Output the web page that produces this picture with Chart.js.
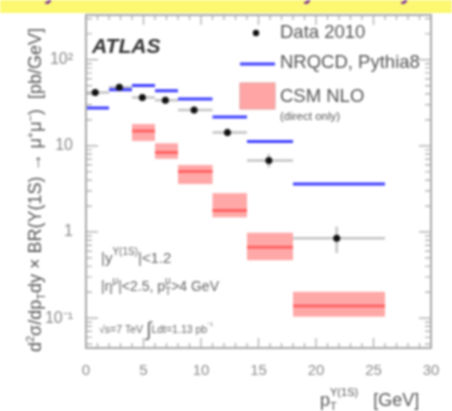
<!DOCTYPE html>
<html>
<head>
<meta charset="utf-8">
<script src="https://cdn.jsdelivr.net/npm/chart.js@4.4.1/dist/chart.umd.min.js"></script>
<style>
  html, body { margin: 0; padding: 0; background: #fff; }
  #chart { display: block; filter: blur(1px); }
</style>
</head>
<body>
<canvas id="chart" width="452" height="411"></canvas>
<script>
// bins in pT [GeV]
const binLo = [0, 2, 4, 6, 8, 11, 14, 18];
const binHi = [2, 4, 6, 8, 11, 14, 18, 26];

// Data 2010
const dataX = [0.8, 2.9, 4.9, 6.9, 9.4, 12.3, 15.9, 21.8];
const dataY = [41.7, 48, 36.5, 33.7, 26, 14.3, 6.75, 0.845];
const dataYLo = [38, 44, 33, 30.5, 23.5, 12.8, 5.6, 0.57];
const dataYHi = [46, 52, 40, 37, 28.5, 16, 8.1, 1.15];

// NRQCD, Pythia8
const nrqcdY = [27.4, 44.8, 50, 43.6, 34.9, 21.6, 11.2, 3.6];

// CSM NLO (direct only)
const csmLo = [4, 6, 8, 11, 14, 18];
const csmHi = [6, 8, 11, 14, 18, 26];
const csmY = [14.9, 8.36, 5.02, 1.77, 0.664, 0.138];
const csmUp = [17.9, 10.7, 6.0, 2.82, 0.98, 0.202];
const csmDown = [11.4, 7.06, 3.6, 1.48, 0.47, 0.104];

// axes
const xTicks = [0, 5, 10, 15, 20, 25, 30];
const yTicks = [0.1, 1, 10, 100];
const yTickLabels = ['10\u207B\u00B9', '1', '10', '10\u00B2'];

const FONT = '"Liberation Sans", Arial, sans-serif';

function segments(lo, hi, ys) {
  const pts = [];
  ys.forEach((y, i) => {
    pts.push({ x: lo[i], y }, { x: hi[i], y }, { x: hi[i], y: null });
  });
  return pts;
}

// draws text made of runs: {t, size, dy, back} ; back = start at same x as previous run
function rich(ctx, x, y, runs, color, weight) {
  let cx = x, prevX = x;
  runs.forEach((r) => {
    ctx.font = `${weight || ''} ${r.size}px ${FONT}`;
    const startX = r.back ? prevX : cx;
    ctx.fillStyle = color;
    ctx.fillText(r.t, startX, y + (r.dy || 0));
    const w = ctx.measureText(r.t).width;
    if (!r.back) { prevX = cx; cx += w; }
    else cx = Math.max(cx, startX + w);
  });
  return cx - x;
}

function richWidth(ctx, runs) {
  let cx = 0, prevX = 0;
  runs.forEach((r) => {
    ctx.font = `${r.size}px ${FONT}`;
    const w = ctx.measureText(r.t).width;
    if (!r.back) { prevX = cx; cx += w; } else cx = Math.max(cx, prevX + w);
  });
  return cx;
}

const bandsPlugin = {
  id: 'bands',
  beforeDatasetsDraw(chart) {
    const { ctx, scales: { x, y } } = chart;
    ctx.save();
    // CSM boxes
    csmLo.forEach((lo, i) => {
      const x0 = x.getPixelForValue(lo), x1 = x.getPixelForValue(csmHi[i]);
      const y0 = y.getPixelForValue(csmUp[i]), y1 = y.getPixelForValue(csmDown[i]);
      ctx.fillStyle = '#ffa8a8';
      ctx.fillRect(x0, y0, x1 - x0, y1 - y0);
    });
    // error bars of data
    ctx.strokeStyle = '#c4c4c4';
    ctx.lineWidth = 2.5;
    dataX.forEach((dx, i) => {
      const px = x.getPixelForValue(dx), py = y.getPixelForValue(dataY[i]);
      ctx.beginPath();
      ctx.moveTo(x.getPixelForValue(binLo[i]), py);
      ctx.lineTo(x.getPixelForValue(binHi[i]), py);
      ctx.moveTo(px, y.getPixelForValue(dataYLo[i]));
      ctx.lineTo(px, y.getPixelForValue(dataYHi[i]));
      ctx.stroke();
    });
    ctx.restore();
  },
  afterDraw(chart) {
    const { ctx, chartArea: a, scales: { x, y } } = chart;
    ctx.save();
    // yellow band at top
    ctx.fillStyle = '#fcf872';
    ctx.fillRect(0, 0, 452, 13);
    ctx.fillStyle = '#7a2a9a';
    ctx.font = `bold 22px ${FONT}`;
    ctx.fillText('y', 44, -1.5);
    ctx.fillText('y', 303, -1.5);
    ctx.fillText('y', 400, -1.5);

    // frame
    ctx.strokeStyle = '#a8a8a8';
    ctx.lineWidth = 2;
    ctx.strokeRect(a.left, a.top, a.right - a.left, a.bottom - a.top);

    // inside ticks
    ctx.lineWidth = 1.2;
    ctx.beginPath();
    for (let v = 0; v <= 30; v++) {
      const px = x.getPixelForValue(v);
      const len = v % 5 === 0 ? 10 : 5;
      ctx.moveTo(px, a.bottom); ctx.lineTo(px, a.bottom - len);
      ctx.moveTo(px, a.top); ctx.lineTo(px, a.top + len);
    }
    for (let e = -2; e <= 2; e++) {
      for (let m = 1; m <= 9; m++) {
        const v = m * Math.pow(10, e);
        if (v < y.min || v > y.max) continue;
        const py = y.getPixelForValue(v);
        const len = m === 1 ? 12 : 6;
        ctx.moveTo(a.left, py); ctx.lineTo(a.left + len, py);
        ctx.moveTo(a.right, py); ctx.lineTo(a.right - len, py);
      }
    }
    ctx.stroke();

    // ATLAS label
    ctx.fillStyle = '#333';
    ctx.font = `italic bold 21px ${FONT}`;
    ctx.textBaseline = 'middle';
    ctx.fillText('ATLAS', 92, 47);

    // legend
    ctx.fillStyle = '#111';
    ctx.beginPath();
    ctx.arc(256, 33, 3.2, 0, Math.PI * 2);
    ctx.fill();
    ctx.strokeStyle = '#3f3fff';
    ctx.lineWidth = 3;
    ctx.beginPath();
    ctx.moveTo(240, 64); ctx.lineTo(275, 64);
    ctx.stroke();
    ctx.fillStyle = '#ffa5a5';
    ctx.fillRect(240, 83, 35, 26);
    ctx.strokeStyle = '#e59a9a';
    ctx.lineWidth = 1;
    ctx.strokeRect(240, 83, 35, 26);

    ctx.fillStyle = '#555';
    ctx.font = `18.5px ${FONT}`;
    ctx.fillText('Data 2010', 280, 33);
    ctx.fillText('NRQCD, Pythia8', 280, 63);
    ctx.fillText('CSM NLO', 280, 97);
    ctx.font = `11.5px ${FONT}`;
    ctx.fillText('(direct only)', 280, 117);

    // selection annotations
    ctx.textBaseline = 'alphabetic';
    const c = '#666';
    rich(ctx, 101, 263, [
      { t: '|y', size: 15 }, { t: '\u03A5(1S)', size: 10, dy: -8 }, { t: '|<1.2', size: 15 }
    ], c);
    rich(ctx, 101, 291, [
      { t: '|\u03B7', size: 14 }, { t: '\u03BC', size: 10, dy: -7 }, { t: '|<2.5, p', size: 14 },
      { t: 'T', size: 10, dy: 4 }, { t: '\u03BC', size: 10, dy: -7, back: true }, { t: '>4 GeV', size: 14 }
    ], c);
    rich(ctx, 99, 333, [
      { t: '\u221As=7 TeV ', size: 10.5 }, { t: '\u222B', size: 20, dy: 3 }, { t: 'Ldt=1.13 pb', size: 10.5 },
      { t: '\u207B\u00B9', size: 8, dy: -5 }
    ], c);

    // x title
    rich(ctx, 320, 406, [
      { t: 'p', size: 18 }, { t: 'T', size: 11, dy: 4 }, { t: '\u03A5(1S)', size: 11, dy: -10, back: true },
      { t: '   [GeV]', size: 18 }
    ], '#555');

    // y title (rotated)
    const yRuns = [
      { t: 'd', size: 18 }, { t: '2', size: 11, dy: -7 }, { t: '\u03C3/dp', size: 18 }, { t: 'T', size: 11, dy: 4 },
      { t: 'dy \u00D7 BR(\u03A5(1S) \u2192 \u03BC', size: 18 }, { t: '+', size: 11, dy: -7 }, { t: '\u03BC', size: 18 },
      { t: '\u2212', size: 11, dy: -7 }, { t: ')  [pb/GeV]', size: 18 }
    ];
    const w = richWidth(ctx, yRuns);
    ctx.translate(41, 190);
    ctx.rotate(-Math.PI / 2);
    rich(ctx, -w / 2, 0, yRuns, '#555');
    ctx.restore();
  }
};

new Chart(document.getElementById('chart'), {
  type: 'scatter',
  data: {
    datasets: [
      {
        label: 'Data 2010',
        data: dataX.map((v, i) => ({ x: v, y: dataY[i] })),
        pointRadius: 3.5,
        pointBackgroundColor: '#111',
        pointBorderWidth: 0
      },
      {
        type: 'line',
        label: 'NRQCD, Pythia8',
        data: segments(binLo, binHi, nrqcdY),
        borderColor: '#3f3fff',
        borderWidth: 3,
        pointRadius: 0,
        spanGaps: false
      },
      {
        type: 'line',
        label: 'CSM NLO',
        data: segments(csmLo, csmHi, csmY),
        borderColor: '#ff6464',
        borderWidth: 3,
        pointRadius: 0,
        spanGaps: false
      }
    ]
  },
  options: {
    responsive: false,
    animation: false,
    devicePixelRatio: 1,
    layout: { padding: { top: 15, right: 21, left: 0, bottom: 0 } },
    plugins: { legend: { display: false }, tooltip: { enabled: false } },
    scales: {
      x: {
        type: 'linear',
        min: 0,
        max: 30,
        afterBuildTicks: (s) => { s.ticks = xTicks.map((v) => ({ value: v })); },
        afterFit: (s) => { s.height = 63; },
        ticks: { color: '#8a8a8a', font: { size: 15, family: FONT }, padding: 6, maxRotation: 0 },
        grid: { display: false },
        border: { display: false }
      },
      y: {
        type: 'logarithmic',
        min: 0.045,
        max: 330,
        afterBuildTicks: (s) => { s.ticks = yTicks.map((v) => ({ value: v })); },
        afterFit: (s) => { s.width = 86; },
        ticks: {
          color: '#8a8a8a',
          font: { size: 16, family: FONT },
          padding: 5,
          callback: (v) => yTickLabels[yTicks.indexOf(v)] || ''
        },
        grid: { display: false },
        border: { display: false }
      }
    }
  },
  plugins: [bandsPlugin]
});
</script>
</body>
</html>
